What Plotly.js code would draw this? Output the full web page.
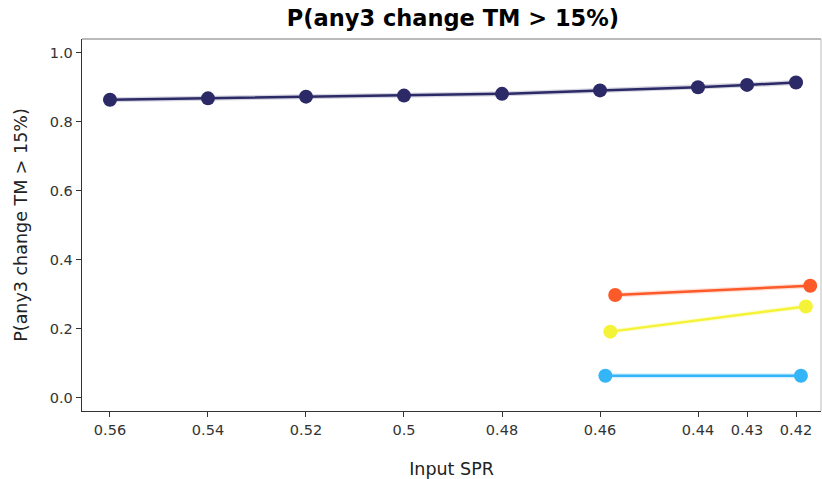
<!DOCTYPE html>
<html>
<head>
<meta charset="utf-8">
<script src="https://cdn.plot.ly/plotly-3.0.1.min.js"></script>
<style>html,body{margin:0;padding:0;background:#fff}#chart{width:822px;height:479px}</style>
</head>
<body>
<div id="chart"></div>
<script>
// Data
const darkX = [0.56, 0.54, 0.52, 0.50, 0.48, 0.46, 0.44, 0.43, 0.42];
const darkY = [0.864, 0.868, 0.873, 0.876, 0.881, 0.891, 0.900, 0.907, 0.914];
const orangeX = [0.4569, 0.4171];
const orangeY = [0.298, 0.325];
const yellowX = [0.4579, 0.4180];
const yellowY = [0.192, 0.265];
const blueX = [0.4589, 0.4190];
const blueY = [0.064, 0.064];
const tickVals = [0.56, 0.54, 0.52, 0.5, 0.48, 0.46, 0.44, 0.43, 0.42];
const tickText = ['0.56', '0.54', '0.52', '0.5', '0.48', '0.46', '0.44', '0.43', '0.42'];

const font = 'DejaVu Sans, sans-serif';

function series(x, y, color, halo) {
  const out = [];
  if (halo) {
    out.push({x: x, y: y, type: 'scatter', mode: 'lines',
      line: {color: halo, width: 5}, hoverinfo: 'skip', showlegend: false});
  }
  out.push({x: x, y: y, type: 'scatter', mode: 'lines+markers',
    line: {color: color, width: 2.5},
    marker: {color: color, size: 14}, showlegend: false});
  return out;
}

const data = [].concat(
  series(darkX, darkY, '#2b2a66', 'rgba(43,42,102,0.2)'),
  series(orangeX, orangeY, '#fd5a2a', 'rgba(253,90,42,0.2)'),
  series(yellowX, yellowY, '#f5f337', 'rgba(245,243,55,0.2)'),
  series(blueX, blueY, '#34b5f7', 'rgba(52,181,247,0.2)')
);

const layout = {
  width: 822, height: 479,
  margin: {l: 82, r: 1, t: 39, b: 68},
  paper_bgcolor: '#fff', plot_bgcolor: '#fff',
  font: {family: font, color: '#222', size: 14.5},
  title: {text: '<b>P(any3 change TM > 15%)</b>', x: 0.551, xanchor: 'center', y: 0.962, yanchor: 'middle',
    font: {family: font, size: 22.5, color: '#000'}},
  xaxis: {
    range: [0.56571, 0.4149], autorange: false,
    tickvals: tickVals, ticktext: tickText,
    showgrid: false, zeroline: false,
    showline: true, linecolor: '#333', linewidth: 1.3,
    ticks: 'outside', ticklen: 5, tickcolor: '#333', tickwidth: 1,
    tickfont: {family: font, size: 14.5, color: '#333'},
    title: {text: 'Input SPR', font: {family: font, size: 17.5, color: '#222'}, standoff: 26}
  },
  yaxis: {
    range: [-0.038, 1.04], autorange: false,
    tickvals: [0, 0.2, 0.4, 0.6, 0.8, 1.0],
    ticktext: ['0.0', '0.2', '0.4', '0.6', '0.8', '1.0'],
    showgrid: false, zeroline: false,
    showline: true, linecolor: '#333', linewidth: 1.3,
    ticks: 'outside', ticklen: 5, tickcolor: '#333', tickwidth: 1,
    tickfont: {family: font, size: 14.5, color: '#333'},
    title: {text: 'P(any3 change TM > 15%)', font: {family: font, size: 17.5, color: '#222'}, standoff: 17}
  },
  shapes: [
    {type: 'line', xref: 'paper', yref: 'paper', x0: 0, x1: 1, y0: 1, y1: 1, line: {color: '#777', width: 1.2}},
    {type: 'line', xref: 'paper', yref: 'paper', x0: 1, x1: 1, y0: 0, y1: 1, line: {color: '#bbb', width: 1}}
  ]
};

Plotly.newPlot('chart', data, layout, {displayModeBar: false, staticPlot: true});
</script>
</body>
</html>
